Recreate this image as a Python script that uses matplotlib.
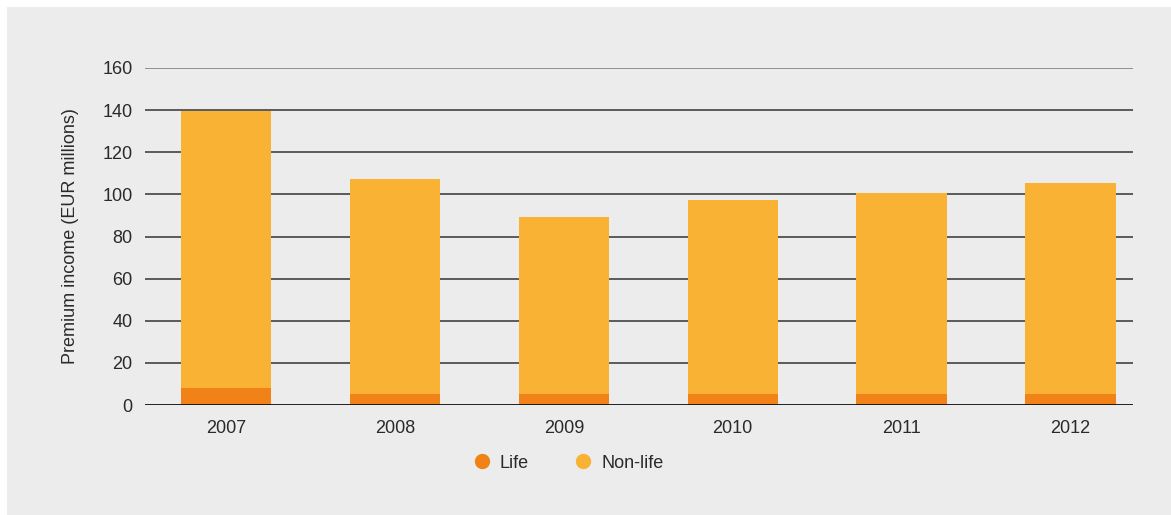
import matplotlib
matplotlib.use('Agg')
import matplotlib.pyplot as plt
from matplotlib.patches import Rectangle
from matplotlib.lines import Line2D

plt.rcParams['font.family'] = ['Liberation Sans', 'DejaVu Sans']

years = ['2007', '2008', '2009', '2010', '2011', '2012']
life = [8.2, 5.3, 5.3, 5.3, 5.3, 5.3]
non_life = [131.5, 102.0, 84.0, 92.0, 95.4, 100.1]
yticks = [0, 20, 40, 60, 80, 100, 120, 140, 160]

c_life = '#f08217'
c_nonlife = '#f9b233'
bg = '#ececec'
txt = '#2a2a2a'

fig = plt.figure(figsize=(11.71, 5.15), dpi=100)
fig.patch.set_facecolor('white')
fig.patches.append(Rectangle((7 / 1171, 0), 1, 1 - 7 / 515, transform=fig.transFigure,
                             facecolor=bg, edgecolor='none', zorder=-10))

ax = fig.add_axes([145 / 1171, 1 - 405 / 515, 988 / 1171, 337 / 515])
ax.set_facecolor('none')

x = list(range(len(years)))
ax.bar(x, life, width=0.535, color=c_life, zorder=3)
ax.bar(x, non_life, bottom=life, width=0.535, color=c_nonlife, zorder=3)

ax.set_ylim(0, 160)
ax.set_xlim(-0.48, 5.37)
ax.set_yticks(yticks)
ax.set_xticks(x)
ax.set_xticklabels(years)
for t in yticks[1:]:
    ax.axhline(t, color='#333333' if t < 160 else '#777777', lw=1.1, zorder=1)
ax.axhline(0, color='#111111', lw=1.3, zorder=4)

for s in ax.spines.values():
    s.set_visible(False)
ax.tick_params(length=0, labelsize=13, colors=txt)
ax.tick_params(axis='y', pad=9)
ax.tick_params(axis='x', pad=11)
ax.set_ylabel('Premium income (EUR millions)', fontsize=13, color=txt, labelpad=17)

handles = [Line2D([], [], marker='o', ls='none', markersize=10, color=c_life, label='Life'),
           Line2D([], [], marker='o', ls='none', markersize=10, color=c_nonlife, label='Non-life')]
leg = fig.legend(handles=handles, loc='center', bbox_to_anchor=(568 / 1171, 1 - 463 / 515),
                 ncol=2, frameon=False, fontsize=13, handletextpad=0.5, columnspacing=2.5,
                 handlelength=1.0)
for t in leg.get_texts():
    t.set_color(txt)

fig.savefig('out.png', dpi=100, facecolor=fig.get_facecolor())
